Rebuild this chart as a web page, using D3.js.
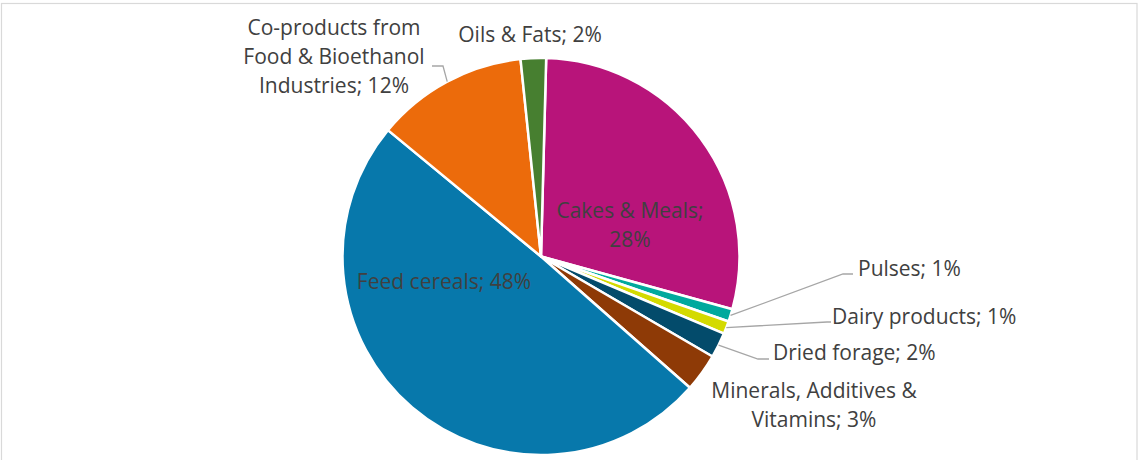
<!DOCTYPE html>
<html>
<head>
<meta charset="utf-8">
<script src="https://cdn.jsdelivr.net/npm/d3@7"></script>
<style>
    body { margin: 0; background: #fff; }
    text { font-family: "Open Sans", sans-serif; }
</style>
</head>
<body>
<div id="chart"></div>
<script>
// slices, in clockwise order starting just right of 12 o'clock
const categories = ["Cakes & Meals", "Pulses", "Dairy products", "Dried forage",
    "Minerals, Additives & Vitamins", "Feed cereals",
    "Co-products from Food & Bioethanol Industries", "Oils & Fats"]
const shares = [28, 1, 1, 2, 3, 48, 12, 2]
const colors = ["#b8147a", "#00a99d", "#d4da00", "#034b6b", "#8e3a06", "#0778ab", "#ec6b0b", "#477f30"]

drawChart()

function drawChart() {
    const width = 1138
    const height = 460
    const cx = 541, cy = 256.5, radius = 198.5

    // where each label sits: x, y (centre of first line), anchor, wrap width, leader [elbowX, lineY, endX]
    const layout = [
        { x: 630, y: 211, anchor: "middle", wrap: 165 },
        { x: 858, y: 269, anchor: "start", wrap: 400, leader: [843, 274, 853] },
        { x: 832, y: 317, anchor: "start", wrap: 400, leader: [827, 322, 831] },
        { x: 773, y: 352.5, anchor: "start", wrap: 400, leader: [758, 359, 769] },
        { x: 814, y: 391, anchor: "middle", wrap: 225 },
        { x: 444, y: 282, anchor: "middle", wrap: 400 },
        { x: 334, y: 27.5, anchor: "middle", wrap: 190, leader: [443, 66, 432] },
        { x: 530, y: 34.5, anchor: "middle", wrap: 400 }
    ]

    var svg = d3.select("#chart")
        .append("svg")
        .attr("width", width)
        .attr("height", height)

    // chart area border
    svg.append("rect")
        .attr("x", 1.5)
        .attr("y", 3.5)
        .attr("width", 1135.5)
        .attr("height", 480)
        .attr("fill", "none")
        .attr("stroke", "#d9d9d9")
        .attr("stroke-width", 1.2)

    const startAngle = 1.5 * Math.PI / 180
    let pie = d3.pie()
        .sort(null)
        .startAngle(startAngle)
        .endAngle(startAngle + 2 * Math.PI)
    let arcs = pie(shares)

    let arc = d3.arc().innerRadius(0).outerRadius(radius)

    let g = svg.append("g")
        .attr("transform", "translate(" + cx + "," + cy + ")")

    g.selectAll("path")
        .data(arcs)
        .enter()
        .append("path")
        .attr("d", arc)
        .attr("fill", (d, i) => colors[i])
        .attr("stroke", "#fff")
        .attr("stroke-width", 2.5)
        .attr("stroke-linejoin", "round")

    // leader lines
    arcs.forEach((d, i) => {
        let l = layout[i].leader
        if (!l) return
        let mid = (d.startAngle + d.endAngle) / 2
        let px = cx + radius * Math.sin(mid)
        let py = cy - radius * Math.cos(mid)
        svg.append("polyline")
            .attr("points", [[px, py], [l[0], l[1]], [l[2], l[1]]].map(p => p.join(",")).join(" "))
            .attr("fill", "none")
            .attr("stroke", "#a6a6a6")
            .attr("stroke-width", 1.3)
    })

    // data labels
    const lineHeight = 29
    arcs.forEach((d, i) => {
        let pos = layout[i]
        let t = svg.append("text")
            .attr("text-anchor", pos.anchor)
            .attr("fill", "#404040")
            .style("font-size", "21px")
        wrapLabel(t, `${categories[i]}; ${shares[i]}%`, pos, lineHeight)
    })
}

// greedy word wrap into tspans no wider than pos.wrap
function wrapLabel(textNode, label, pos, lineHeight) {
    let words = label.split(" ")
    let lines = []
    let current = []
    let probe = textNode.append("tspan")
    words.forEach(w => {
        let trial = current.concat([w]).join(" ")
        probe.text(trial)
        if (current.length && probe.node().getComputedTextLength() > pos.wrap) {
            lines.push(current.join(" "))
            current = [w]
        } else {
            current.push(w)
        }
    })
    lines.push(current.join(" "))
    probe.remove()

    lines.forEach((line, k) => {
        textNode.append("tspan")
            .attr("x", pos.x)
            .attr("y", pos.y + k * lineHeight)
            .attr("dy", "0.35em")
            .text(line)
    })
}
</script>
</body>
</html>
